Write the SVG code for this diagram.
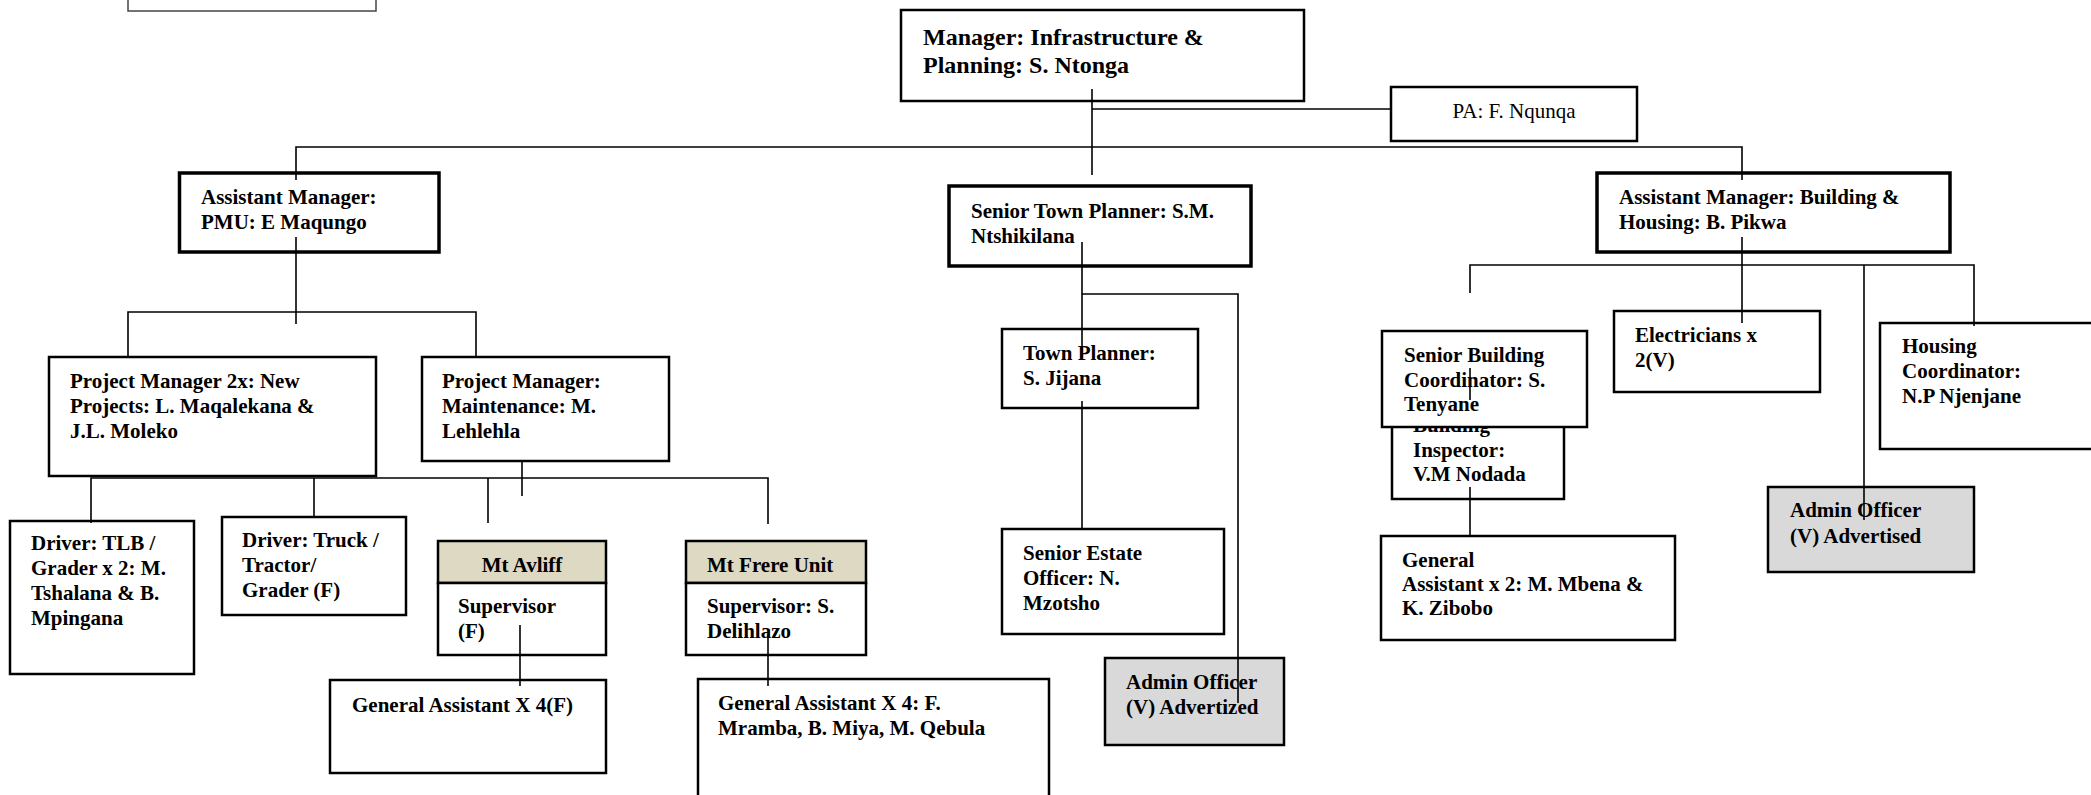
<svg xmlns="http://www.w3.org/2000/svg" width="2091" height="795" viewBox="0 0 2091 795">
<style>
.box{fill:#fff;stroke:#000;stroke-width:2.5}
.thick{stroke-width:3.5}
.hdr{fill:#DDD9C3;stroke:#000;stroke-width:2.5}
.grey{fill:#D9D9D9;stroke:#000;stroke-width:2.5}
.t{font-family:"Liberation Serif",serif;font-weight:bold;font-size:21px;fill:#000}
.big{font-size:24px}
.reg{font-weight:normal}
.c{fill:none;stroke:#000;stroke-width:1.6}
</style>
<rect width="2091" height="795" fill="#fff"/>
<g id="top-left-box"><rect x="128" y="-20" width="248" height="31" fill="#fff" stroke="#444" stroke-width="1.5"/></g>
<g id="manager"><rect class="box" x="901" y="10" width="403" height="91" stroke-width="4"/>
<text class="t big" x="923" y="45">Manager: Infrastructure &amp;</text><text class="t big" x="923" y="73">Planning: S. Ntonga</text></g>
<g id="pa"><rect class="box" x="1391" y="87" width="246" height="54"/><text class="t reg" x="1514" y="118" text-anchor="middle">PA: F. Nqunqa</text></g>
<g id="am-pmu"><rect class="box thick" x="179.5" y="173" width="259.5" height="79"/>
<text class="t" x="201" y="204">Assistant Manager:</text><text class="t" x="201" y="229">PMU: E Maqungo</text></g>
<g id="stp"><rect class="box thick" x="949" y="186" width="302" height="80"/>
<text class="t" x="971" y="218">Senior Town Planner: S.M.</text><text class="t" x="971" y="243">Ntshikilana</text></g>
<g id="am-bh"><rect class="box thick" x="1597" y="173" width="353" height="79"/>
<text class="t" x="1619" y="204">Assistant Manager: Building &amp;</text><text class="t" x="1619" y="229">Housing: B. Pikwa</text></g>
<g id="pm-new"><rect class="box" x="49" y="357" width="327" height="119"/>
<text class="t" x="70" y="388">Project Manager 2x: New</text><text class="t" x="70" y="413">Projects: L. Maqalekana &amp;</text><text class="t" x="70" y="438">J.L. Moleko</text></g>
<g id="pm-maint"><rect class="box" x="422" y="357" width="247" height="104"/>
<text class="t" x="442" y="388">Project Manager:</text><text class="t" x="442" y="413">Maintenance: M.</text><text class="t" x="442" y="438">Lehlehla</text></g>
<g id="driver-tlb"><rect class="box" x="10" y="521" width="184" height="153"/>
<text class="t" x="31" y="550">Driver: TLB /</text><text class="t" x="31" y="575">Grader x 2: M.</text><text class="t" x="31" y="600">Tshalana &amp; B.</text><text class="t" x="31" y="625">Mpingana</text></g>
<g id="driver-truck"><rect class="box" x="222" y="517" width="184" height="98"/>
<text class="t" x="242" y="547">Driver: Truck /</text><text class="t" x="242" y="572">Tractor/</text><text class="t" x="242" y="597">Grader (F)</text></g>
<g id="mt-avliff"><rect class="hdr" x="438" y="541" width="168" height="42"/><text class="t" x="522" y="572" text-anchor="middle">Mt Avliff</text>
<rect class="box" x="438" y="583" width="168" height="72"/><text class="t" x="458" y="613">Supervisor</text><text class="t" x="458" y="638">(F)</text></g>
<g id="ga-avliff"><rect class="box" x="330" y="680" width="276" height="93"/><text class="t" x="352" y="712">General Assistant X 4(F)</text></g>
<g id="mt-frere"><rect class="hdr" x="686" y="541" width="180" height="42"/><text class="t" x="707" y="572">Mt Frere Unit</text>
<rect class="box" x="686" y="583" width="180" height="72"/><text class="t" x="707" y="613">Supervisor: S.</text><text class="t" x="707" y="638">Delihlazo</text></g>
<g id="ga-frere"><rect class="box" x="698" y="679" width="351" height="140"/>
<text class="t" x="718" y="710">General Assistant X 4: F.</text><text class="t" x="718" y="735">Mramba, B. Miya, M. Qebula</text></g>
<g id="town-planner"><rect class="box" x="1002" y="329" width="196" height="79"/>
<text class="t" x="1023" y="360">Town Planner:</text><text class="t" x="1023" y="385">S. Jijana</text></g>
<g id="senior-estate"><rect class="box" x="1002" y="529" width="222" height="105"/>
<text class="t" x="1023" y="560">Senior Estate</text><text class="t" x="1023" y="585">Officer: N.</text><text class="t" x="1023" y="610">Mzotsho</text></g>
<g id="admin-advertized"><rect class="grey" x="1105" y="658" width="179" height="87"/>
<text class="t" x="1126" y="689">Admin Officer</text><text class="t" x="1126" y="714">(V) Advertized</text></g>
<g id="building-inspector"><rect class="box" x="1392" y="405" width="172" height="94"/>
<text class="t" x="1413" y="432">Building</text><text class="t" x="1413" y="457">Inspector:</text><text class="t" x="1413" y="481">V.M Nodada</text></g>
<g id="senior-building"><rect class="box" x="1382" y="331" width="205" height="96"/>
<text class="t" x="1404" y="362">Senior Building</text><text class="t" x="1404" y="387">Coordinator: S.</text><text class="t" x="1404" y="411">Tenyane</text></g>
<g id="ga-building"><rect class="box" x="1381" y="536" width="294" height="104"/>
<text class="t" x="1402" y="567">General</text><text class="t" x="1402" y="591">Assistant x 2: M. Mbena &amp;</text><text class="t" x="1402" y="615">K. Zibobo</text></g>
<g id="electricians"><rect class="box" x="1614" y="311" width="206" height="81"/>
<text class="t" x="1635" y="342">Electricians x</text><text class="t" x="1635" y="367">2(V)</text></g>
<g id="housing"><rect class="box" x="1880" y="323" width="230" height="126"/>
<text class="t" x="1902" y="353">Housing</text><text class="t" x="1902" y="378">Coordinator:</text><text class="t" x="1902" y="403">N.P Njenjane</text></g>
<g id="admin-advertised"><rect class="grey" x="1768" y="487" width="206" height="85"/>
<text class="t" x="1790" y="517">Admin Officer</text><text class="t" x="1790" y="543">(V) Advertised</text></g>
<g id="connectors">
<path class="c" d="M1092,89 V175"/>
<path class="c" d="M1092,109 H1391"/>
<path class="c" d="M296,180 V147 H1742 V180"/>
<path class="c" d="M296,237 V324"/>
<path class="c" d="M128,357 V312 H476 V357"/>
<path class="c" d="M91,523 V478 H768 V524"/>
<path class="c" d="M314,478 V517"/>
<path class="c" d="M488,478 V523"/>
<path class="c" d="M522,461 V496"/>
<path class="c" d="M520,625 V686"/>
<path class="c" d="M768,635 V686"/>
<path class="c" d="M1082,242 V357"/>
<path class="c" d="M1082,294 H1238 V703"/>
<path class="c" d="M1082,401 V529"/>
<path class="c" d="M1742,237 V323"/>
<path class="c" d="M1470,293 V265 H1974 V326"/>
<path class="c" d="M1864,265 V520"/>
<path class="c" d="M1470,368 V400"/>
<path class="c" d="M1470,487 V536"/>
</g>
</svg>
